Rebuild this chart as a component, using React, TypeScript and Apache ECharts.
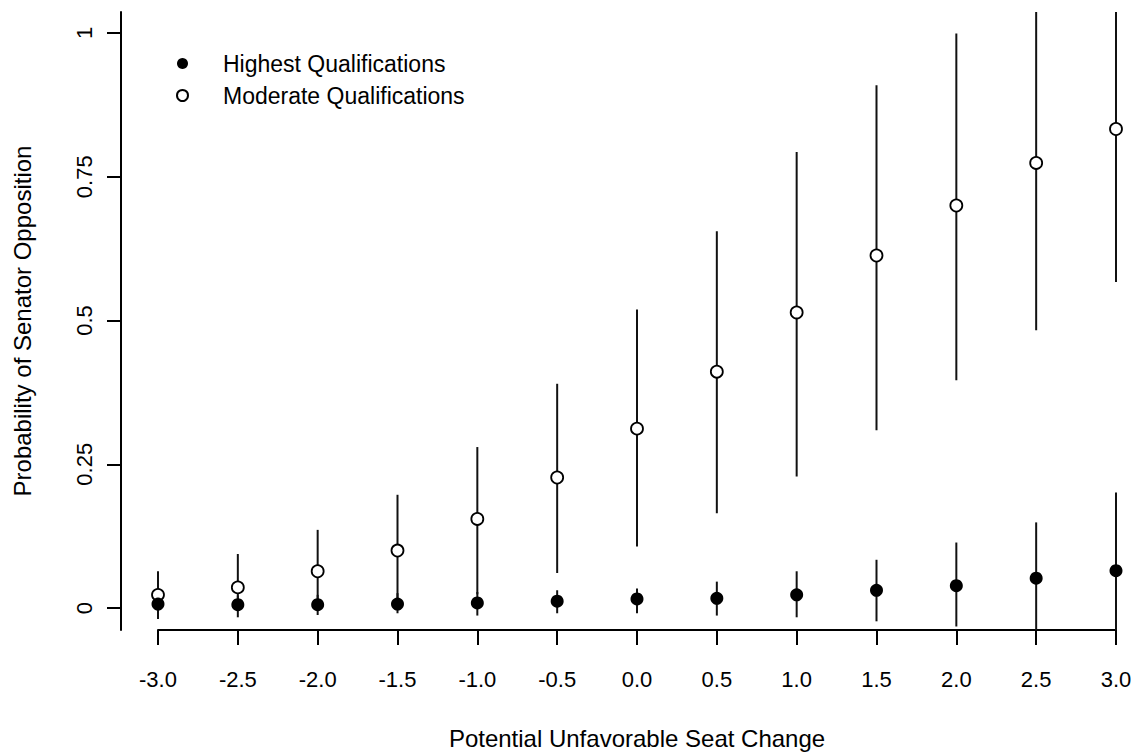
import React, { useEffect, useRef } from "react";
import * as echarts from "echarts";

const seatChange = [-3.0, -2.5, -2.0, -1.5, -1.0, -0.5, 0.0, 0.5, 1.0, 1.5, 2.0, 2.5, 3.0];

const moderateMean = [0.023, 0.036, 0.064, 0.100, 0.155, 0.227, 0.312, 0.411, 0.514, 0.613, 0.700, 0.774, 0.833];
const moderateLow = [0.005, 0.008, 0.012, 0.012, 0.024, 0.061, 0.107, 0.165, 0.229, 0.309, 0.396, 0.483, 0.567];
const moderateHigh = [0.064, 0.094, 0.136, 0.197, 0.280, 0.390, 0.519, 0.655, 0.793, 0.909, 0.999, 1.10, 1.15];

const highestMean = [0.007, 0.006, 0.006, 0.007, 0.009, 0.012, 0.016, 0.017, 0.023, 0.031, 0.039, 0.052, 0.065];
const highestLow = [-0.019, -0.016, -0.012, -0.009, -0.013, -0.009, -0.009, -0.013, -0.016, -0.023, -0.032, -0.06, -0.09];
const highestHigh = [0.02, 0.022, 0.023, 0.026, 0.028, 0.031, 0.034, 0.046, 0.064, 0.084, 0.114, 0.149, 0.201];

const yTicks = [0, 0.25, 0.5, 0.75, 1];
const yTickLabels = ["0", "0.25", "0.5", "0.75", "1"];

const Y_MIN = -0.0381;
const Y_MAX = 1.0364;
const FONT = "'Liberation Sans', Arial, sans-serif";

export default function App() {
  const ref = useRef<HTMLDivElement>(null);

  useEffect(() => {
    if (!ref.current) return;
    const chart = echarts.init(ref.current, null, { renderer: "svg" });

    const clamp = (v: number) => Math.max(Y_MIN, Math.min(Y_MAX, v));
    const errRender = (params: any, api: any) => {
      const x = api.value(0);
      const lo = clamp(api.value(1));
      const hi = clamp(api.value(2));
      const p1 = api.coord([x, lo]);
      const p2 = api.coord([x, hi]);
      return {
        type: "line",
        shape: { x1: p1[0], y1: p1[1], x2: p2[0], y2: p2[1] },
        style: { stroke: "#111", lineWidth: 2 },
      };
    };

    const modErr = seatChange.map((x, i) => [x, moderateLow[i], moderateHigh[i]]);
    const hiErr = seatChange.map((x, i) => [x, highestLow[i], highestHigh[i]]);

    chart.setOption({
      animation: false,
      backgroundColor: "#fff",
      grid: { left: 158, right: 23, top: 12, bottom: 123 },
      legend: {
        orient: "vertical",
        left: 171,
        top: 47,
        itemWidth: 11,
        itemHeight: 11,
        itemGap: 9,
        data: [
          { name: "Highest Qualifications" },
          { name: "Moderate Qualifications" },
        ],
        textStyle: {
          fontFamily: FONT,
          fontSize: 23,
          color: "#000",
          padding: [0, 0, 0, 30],
        },
      },
      xAxis: {
        type: "value",
        min: -3,
        max: 3,
        interval: 0.5,
        name: "Potential Unfavorable Seat Change",
        nameLocation: "middle",
        nameGap: 96,
        nameTextStyle: { fontFamily: FONT, fontSize: 24, color: "#000" },
        axisLine: { show: true, onZero: false, lineStyle: { color: "#000", width: 2 } },
        axisTick: { show: true, inside: false, length: 15, lineStyle: { color: "#000", width: 2 } },
        axisLabel: {
          fontFamily: FONT,
          fontSize: 22,
          color: "#000",
          margin: 38,
          formatter: (v: number) => v.toFixed(1),
        },
        splitLine: { show: false },
      },
      yAxis: {
        type: "value",
        min: Y_MIN,
        max: Y_MAX,
        offset: 37,
        name: "Probability of Senator Opposition",
        nameLocation: "middle",
        nameGap: 87,
        nameRotate: 90,
        nameTextStyle: { fontFamily: FONT, fontSize: 24, color: "#000" },
        axisLine: { show: true, onZero: false, lineStyle: { color: "#000", width: 2 } },
        axisTick: {
          show: true,
          inside: false,
          length: 14,
          customValues: yTicks,
          lineStyle: { color: "#000", width: 2 },
        },
        axisLabel: {
          fontFamily: FONT,
          fontSize: 22,
          color: "#000",
          rotate: 90,
          margin: 26,
          customValues: yTicks,
          formatter: (v: number) => {
            const idx = yTicks.findIndex((t) => Math.abs(t - v) < 1e-6);
            return idx >= 0 ? yTickLabels[idx] : "";
          },
        },
        splitLine: { show: false },
      },
      series: [
        {
          name: "Moderate error",
          type: "custom",
          renderItem: errRender,
          data: modErr,
          z: 1,
          silent: true,
        },
        {
          name: "Highest error",
          type: "custom",
          renderItem: errRender,
          data: hiErr,
          z: 1,
          silent: true,
        },
        {
          name: "Moderate Qualifications",
          type: "scatter",
          symbol: "circle",
          symbolSize: 12,
          data: seatChange.map((x, i) => [x, moderateMean[i]]),
          itemStyle: { color: "#fff", borderColor: "#000", borderWidth: 1.8, opacity: 1 },
          z: 2,
          clip: false,
        },
        {
          name: "Highest Qualifications",
          type: "scatter",
          symbol: "circle",
          symbolSize: 13,
          data: seatChange.map((x, i) => [x, highestMean[i]]),
          itemStyle: { color: "#000", borderColor: "#000", borderWidth: 0, opacity: 1 },
          z: 3,
          clip: false,
        },
      ],
    });

    return () => chart.dispose();
  }, []);

  return <div ref={ref} style={{ width: 1139, height: 755, position: "absolute", left: 0, top: 0 }} />;
}
